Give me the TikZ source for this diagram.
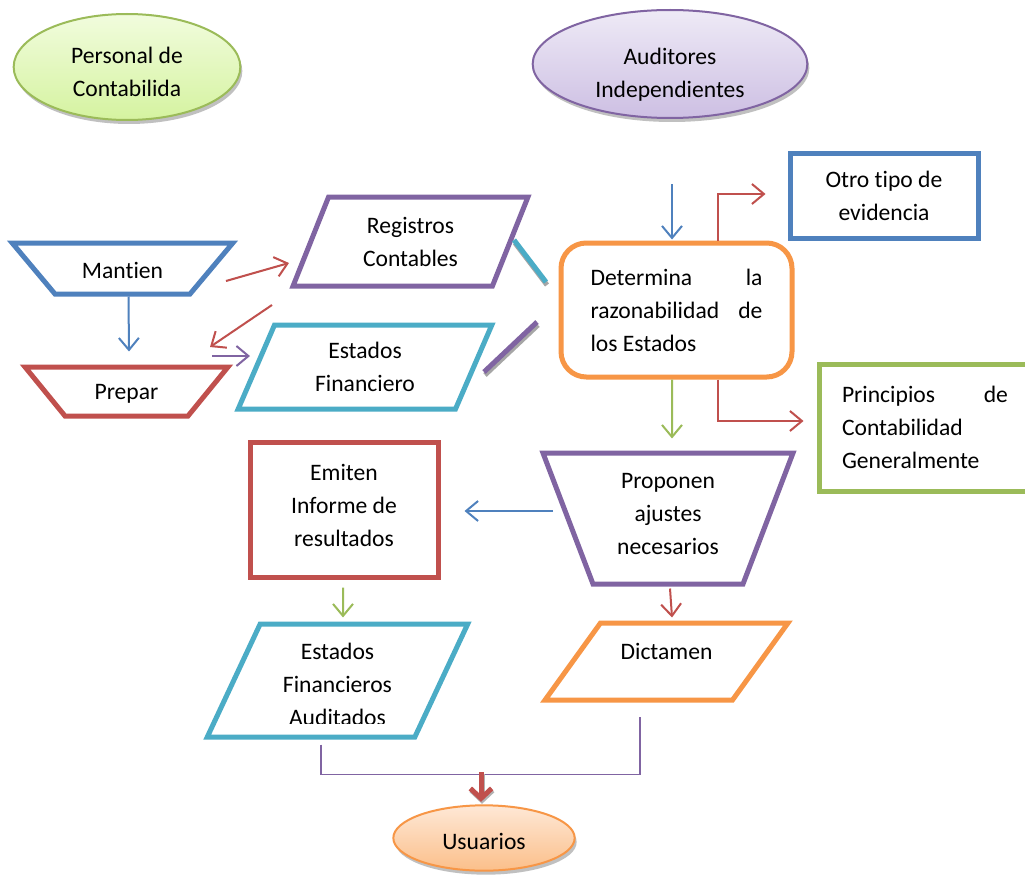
\documentclass[tikz,border=0pt]{standalone}
\usepackage{fontspec}
\setmainfont{Carlito}[Ligatures=CommonOff]
\usepackage{tikz}
\usetikzlibrary{shapes.geometric, arrows.meta, shadows}

\definecolor{ofblue}{HTML}{4F81BD}
\definecolor{ofred}{HTML}{C0504D}
\definecolor{ofgreen}{HTML}{9BBB59}
\definecolor{ofpurple}{HTML}{8064A2}
\definecolor{ofaqua}{HTML}{4BACC6}
\definecolor{oforange}{HTML}{F79646}
\definecolor{greentop}{HTML}{F1FCDD}
\definecolor{greenbot}{HTML}{D5F3A0}
\definecolor{purpletop}{HTML}{EEEAF6}
\definecolor{purplebot}{HTML}{CDBFE3}
\definecolor{orangetop}{HTML}{FEE8D6}
\definecolor{orangebot}{HTML}{FBBF8A}

\newcommand{\diagfont}{\fontsize{17.7pt}{24.75pt}\selectfont}
% text moved up or down inside its shape, size kept
\newcommand{\movetext}[2]{\raisebox{#1}[\height][\depth]{\begin{tabular}{@{}c@{}}#2\end{tabular}}}

\begin{document}
\begin{tikzpicture}[
    x=0.75pt, y=-0.75pt,
    every node/.style={font=\diagfont, align=center},
    actor/.style={
        ellipse,
        line width=1.5pt,
        inner sep=0pt,
        drop shadow={shadow xshift=1.5pt, shadow yshift=-3pt, fill=black!35, opacity=0.7},
    },
    box/.style={
        draw,
        line width=3.75pt,
        inner sep=0pt,
    },
    trap/.style={box, trapezium, shape border rotate=180},
    datos/.style={box, trapezium, trapezium stretches=true},
    arrow/.style={-{Straight Barb[length=9pt, width=15pt]}, line width=1.5pt},
    bigarrow/.style={-{Straight Barb[length=7.5pt, width=16pt]}, line width=3.75pt},
    link/.style={line width=3.75pt},
    linkshadow/.style={line width=3.75pt, black!35, transform canvas={xshift=0.75pt, yshift=-2.25pt}},
]

\useasboundingbox (0,0) rectangle (1025,881);
\fill[white] (0,0) rectangle (1025,881);
\clip (0,0) rectangle (1025,881);

% ----- Nodes: actors -----
\node[actor, draw=ofgreen, top color=greentop, bottom color=greenbot,
      minimum width=170pt, minimum height=79.5pt] (personal) at (127,67)
      {\movetext{-4.9pt}{Personal de\\Contabilida}};
\node[actor, draw=ofpurple, top color=purpletop, bottom color=purplebot,
      minimum width=206pt, minimum height=81pt] (auditores) at (670,64)
      {\movetext{-7.5pt}{Auditores\\Independientes}};
\node[actor, draw=oforange, top color=orangetop, bottom color=orangebot,
      minimum width=136pt, minimum height=49pt] (usuarios) at (484,838)
      {\movetext{-3.75pt}{Usuarios}};

% ----- Nodes: left column -----
\node[trap, ofblue, text=black, trapezium angle=50,
      text width=101.25pt, text height=26.25pt, text depth=12pt] (mantien) at (122.5,268.5) {Mantien};
\node[trap, ofred, text=black, trapezium angle=50.8,
      text width=92.25pt, text height=24pt, text depth=12.75pt] (prepar) at (126.5,391.5) {Prepar};
\node[datos, ofpurple, text=black, trapezium left angle=67.4, trapezium right angle=112.6,
      minimum width=176.25pt, minimum height=66.75pt] (registros) at (410.5,241.5) {Registros\\Contables};
\node[datos, ofaqua, text=black, trapezium left angle=68, trapezium right angle=112,
      minimum width=190.5pt, minimum height=63pt] (estados) at (365,367) {Estados\\Financiero};

% ----- Nodes: auditors -----
\node[box, oforange, text=black, rounded corners=19pt, text width=129pt, align=justify,
      minimum width=173.25pt, minimum height=100.5pt] (determina) at (676.5,310)
      {Determina\hfill la\\razonabilidad\hfill de\\los Estados};
\node[box, ofblue, text=black, minimum width=141pt, minimum height=63.75pt] (otro) at (884,195.5)
      {Otro tipo de\\evidencia};
\node[box, ofgreen, text=black, text width=124.5pt, align=justify,
      minimum width=159pt, minimum height=95.25pt] (principios) at (925,427.5)
      {Principios\hfill de\\Contabilidad\\Generalmente};
\node[trap, ofpurple, text=black, trapezium angle=69.1,
      text width=112.5pt, text height=26.25pt, text depth=72pt] (proponen) at (668,518.5)
      {Proponen\\ajustes\\necesarios};
\node[box, ofred, text=black, minimum width=141pt, minimum height=101.25pt] (emiten) at (344,509.5)
      {\movetext{1.8pt}{Emiten\\Informe de\\resultados}};

% ----- Nodes: results -----
\node[datos, ofaqua, trapezium left angle=65.7, trapezium right angle=114.3,
      minimum width=195.75pt, minimum height=84.75pt] (auditados) at (337.5,680.5)
      {\phantom{Estados}\\\phantom{Financieros}\\\phantom{Auditados}};
\begin{scope}
    \clip (200,600) rectangle (480,723);
    \node (auditadostxt) at ([shift={(0,4)}]auditados.center) {Estados\\Financieros\\Auditados};
\end{scope}
\node[datos, oforange, text=black, trapezium left angle=59.7, trapezium right angle=120.3,
      minimum width=182.25pt, minimum height=57.75pt] (dictamen) at (666.5,661.5)
      {\movetext{-6pt}{Dictamen\\~}};

% ----- Arrows: accounting staff -----
\draw[arrow, ofred] ([shift={(103.5,12.5)}]mantien.center) -- ([shift={(-121.5,21.5)}]registros.center);
\draw[arrow, ofred] ([shift={(-138.5,63.5)}]registros.center) -- ([shift={(83.5,-44.5)}]prepar.center);
\draw[arrow, ofpurple] ([shift={(85.5,-35.5)}]prepar.center) -- ([shift={(-115,-11)}]estados.center);
\draw[arrow, ofblue] ([shift={(6,0)}]mantien.south) -- ([shift={(2.5,-13)}]prepar.north);

% ----- Links to Determina -----
\draw[linkshadow] ([shift={(103.5,-1.5)}]registros.center) -- ([shift={(-130.5,-28)}]determina.center);
\draw[link, ofaqua] ([shift={(103.5,-1.5)}]registros.center) -- ([shift={(-130.5,-28)}]determina.center);
\draw[linkshadow] ([shift={(119,5)}]estados.center) -- ([shift={(-139.5,12)}]determina.center);
\draw[link, ofpurple] ([shift={(119,5)}]estados.center) -- ([shift={(-139.5,12)}]determina.center);

% ----- Arrows: auditors -----
\draw[arrow, ofblue] ([shift={(2,65)}]auditores.south) -- ([shift={(-4.5,-1)}]determina.north);
\draw[arrow, ofred] ([xshift=31.1pt]determina.north) |- ([shift={(-22,-1.5)}]otro.west);
\draw[arrow, ofgreen] ([shift={(-4.5,0)}]determina.south) -- ([shift={(4,-12)}]proponen.north);
\draw[arrow, ofred] ([xshift=31.1pt]determina.south) |- ([shift={(-13,-6.5)}]principios.west);
\draw[arrow, ofblue] ([shift={(-115,-7.5)}]proponen.center) -- ([shift={(24,1.5)}]emiten.east);
\draw[arrow, ofgreen] ([shift={(-1,8)}]emiten.south) -- ([shift={(5.5,-4)}]auditados.north);
\draw[arrow, ofred] ([shift={(2,2)}]proponen.south) -- ([shift={(5.5,-3)}]dictamen.north);

% ----- Join to Usuarios -----
\draw[ofpurple, line width=1.1pt] ([shift={(-16.5,5)}]auditados.south) |- ([shift={(-26.5,72)}]dictamen.south)
    -- ([shift={(-26.5,14)}]dictamen.south);
\coordinate (junta) at (481,772);
\draw[bigarrow, black!30, transform canvas={xshift=0.75pt, yshift=-1.5pt}] (junta) -- ([shift={(-3,-2.5)}]usuarios.north);
\draw[bigarrow, ofred] (junta) -- ([shift={(-3,-2.5)}]usuarios.north);

\end{tikzpicture}
\end{document}
